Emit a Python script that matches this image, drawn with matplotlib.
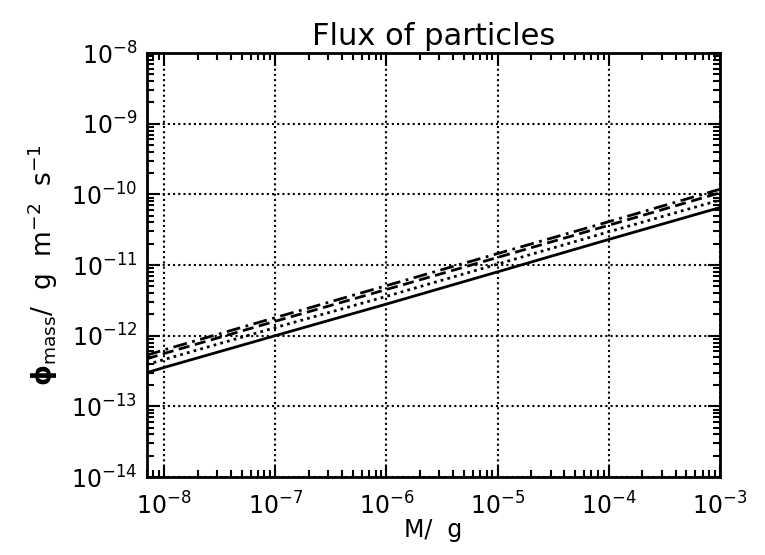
import numpy as np
import matplotlib
matplotlib.use('Agg')
import matplotlib.pyplot as plt
from matplotlib.ticker import LogLocator, NullFormatter

mass = [7e-9, 1e-8, 1e-7, 1e-6, 1e-5, 1e-4, 1e-3]

# mass flux (g m^-2 s^-1), one list per curve
flux_solid = [3.0e-13, 3.55e-13, 1.0e-12, 2.8e-12, 8.0e-12, 2.3e-11, 6.5e-11]
flux_dotted = [3.9e-13, 4.6e-13, 1.3e-12, 3.6e-12, 1.03e-11, 2.95e-11, 8.3e-11]
flux_dashed = [4.7e-13, 5.6e-13, 1.6e-12, 4.5e-12, 1.28e-11, 3.65e-11, 1.05e-10]
flux_dashdot = [5.3e-13, 6.3e-13, 1.8e-12, 5.1e-12, 1.45e-11, 4.1e-11, 1.18e-10]

plt.rcParams['font.family'] = ['DejaVu Sans']

fig = plt.figure(figsize=(7.65, 5.55), dpi=100)
ax = fig.add_axes([0.192, 0.1405, 0.749, 0.764])

ax.plot(mass, flux_solid, color='black', lw=2.0, ls='-')
ax.plot(mass, flux_dotted, color='black', lw=2.0, ls=(0, (1, 1.5)))
ax.plot(mass, flux_dashed, color='black', lw=2.0, ls=(0, (4, 2)))
ax.plot(mass, flux_dashdot, color='black', lw=2.0, ls=(0, (5, 2, 1, 2)))

ax.set_xscale('log')
ax.set_yscale('log')
ax.set_xlim(7e-9, 1e-3)
ax.set_ylim(1e-14, 1e-8)

ax.xaxis.set_major_locator(LogLocator(base=10, numticks=20))
ax.yaxis.set_major_locator(LogLocator(base=10, numticks=20))
ax.xaxis.set_minor_locator(LogLocator(base=10, subs=np.arange(2, 10), numticks=20))
ax.yaxis.set_minor_locator(LogLocator(base=10, subs=np.arange(2, 10), numticks=20))
ax.xaxis.set_minor_formatter(NullFormatter())
ax.yaxis.set_minor_formatter(NullFormatter())

ax.grid(True, which='major', color='black', ls=(0, (1, 1.5)), lw=1.5)
ax.tick_params(which='both', direction='in', top=True, right=True, colors='black')
ax.tick_params(which='major', length=9, width=1.5, labelsize=17)
ax.tick_params(axis='y', which='major', pad=7)
ax.tick_params(axis='x', which='major', pad=11)
ax.tick_params(which='minor', length=5, width=1.5)
for s in ax.spines.values():
    s.set_linewidth(2)

ax.set_title('Flux of particles', fontsize=22, pad=6)
ax.set_ylabel(r'$\mathbf{\phi}_{\rm mass}$/  g  m$^{-2}$  s$^{-1}$', fontsize=19, labelpad=8)
# x label placed by hand so the descender stays inside the figure
fig.text(0.5665, 0.032, 'M/  g', ha='center', va='baseline', fontsize=17)

fig.savefig('out.png', dpi=100)
